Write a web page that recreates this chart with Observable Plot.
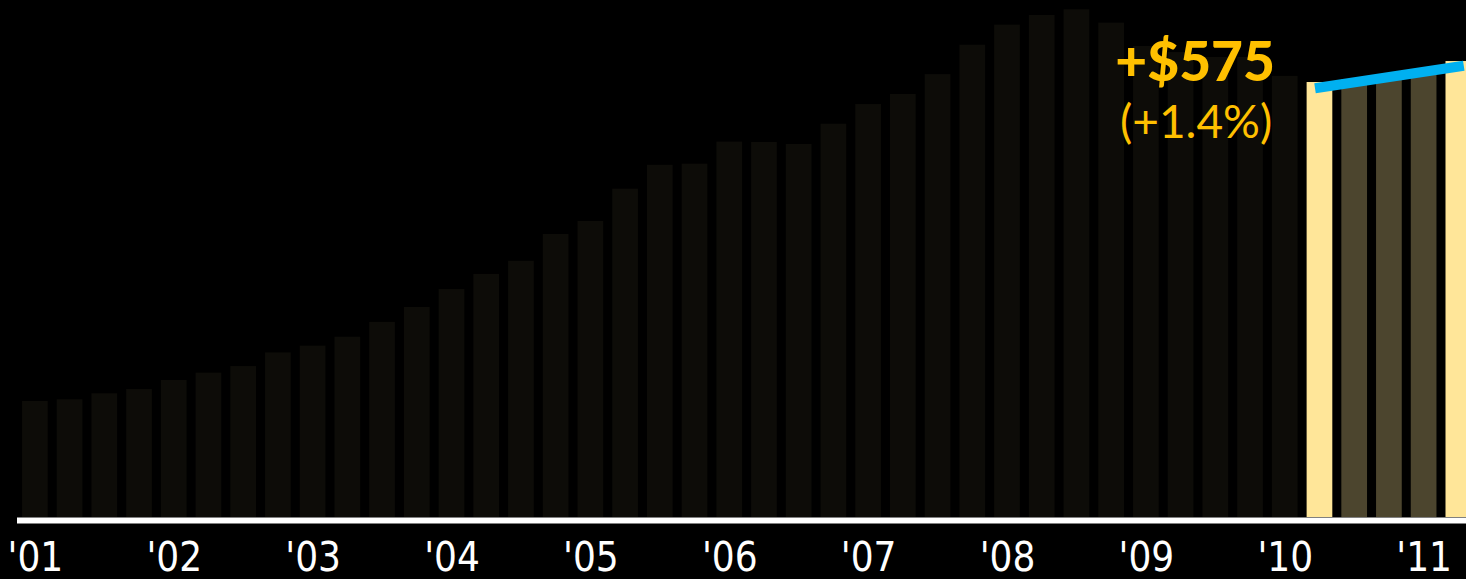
<!DOCTYPE html>
<html>
<head>
<meta charset="utf-8">
<script src="https://cdn.jsdelivr.net/npm/d3@7"></script>
<script src="https://cdn.jsdelivr.net/npm/@observablehq/plot@0.6"></script>
<style>
  html, body { margin: 0; padding: 0; background: #000; overflow: hidden; }
  #chart svg { display: block; }
</style>
</head>
<body>
<div id="chart"></div>
<script>
// Quarterly categories, Q1 2001 through Q2 2011
const quarters = [
  "2001Q1","2001Q2","2001Q3","2001Q4",
  "2002Q1","2002Q2","2002Q3","2002Q4",
  "2003Q1","2003Q2","2003Q3","2003Q4",
  "2004Q1","2004Q2","2004Q3","2004Q4",
  "2005Q1","2005Q2","2005Q3","2005Q4",
  "2006Q1","2006Q2","2006Q3","2006Q4",
  "2007Q1","2007Q2","2007Q3","2007Q4",
  "2008Q1","2008Q2","2008Q3","2008Q4",
  "2009Q1","2009Q2","2009Q3","2009Q4",
  "2010Q1","2010Q2","2010Q3","2010Q4",
  "2011Q1","2011Q2"
];
// Estimated values (dollars)
const values = [
  32330, 32375, 32540, 32655,
  32905, 33105, 33285, 33660,
  33845, 34090, 34495, 34905,
  35395, 35810, 36170, 36905,
  37260, 38145, 38800, 38830,
  39435, 39425, 39370, 39925,
  40465, 40740, 41285, 42090,
  42640, 42905, 43060, 42695,
  42055, 41890, 41755, 41755,
  41235, 41068, 41150, 41285,
  41425, 41643
];
// Bar group for each quarter
const groups = [
  "past","past","past","past",
  "past","past","past","past",
  "past","past","past","past",
  "past","past","past","past",
  "past","past","past","past",
  "past","past","past","past",
  "past","past","past","past",
  "past","past","past","past",
  "past","past","past","past",
  "past","compare","recent","recent",
  "recent","compare"
];
const groupNames = ["past", "compare", "recent"];
const groupColors = ["#0d0c08", "#ffe699", "#4c452e"];

// Year ticks and their labels
const yearTicks = ["2001Q1","2002Q1","2003Q1","2004Q1","2005Q1","2006Q1","2007Q1","2008Q1","2009Q1","2010Q1","2011Q1"];
const tickLabels = ["'01","'02","'03","'04","'05","'06","'07","'08","'09","'10","'11"];

// Annotation
const annotationAnchor = "2009Q2";
const annotationLines = ["+$575", "(+1.4%)"];
const trendFrom = "2010Q2";
const trendTo = "2011Q2";

// Value axis extent (axis is truncated)
const yBase = 29150;
const yTop = 43315;

const data = quarters.map((q, i) => ({q, v: values[i], g: groups[i]}));
const labelOf = new Map(yearTicks.map((t, i) => [t, tickLabels[i]]));
const valueOf = new Map(quarters.map((q, i) => [q, values[i]]));

const chart = Plot.plot({
  width: 1466,
  height: 579,
  marginTop: 0,
  marginBottom: 62,
  marginLeft: 17,
  marginRight: 0,
  style: {background: "#000", color: "#fff", overflow: "hidden"},
  x: {type: "band", domain: quarters, range: [17.5, 1475.7], paddingInner: 0.26, paddingOuter: 0.13, round: false, axis: null},
  y: {domain: [yBase, yTop], axis: null},
  color: {domain: groupNames, range: groupColors},
  marks: [
    Plot.barY(data, {x: "q", y1: yBase, y2: "v", fill: "g"}),
    Plot.ruleY([yBase], {stroke: "#fff", strokeWidth: 6, dy: 3}),
    Plot.axisX({
      ticks: yearTicks,
      tickSize: 0,
      tickPadding: 25,
      tickFormat: d => labelOf.get(d),
      fontSize: 40,
      fontFamily: "'Liberation Sans Narrow', 'DejaVu Sans Condensed', 'DejaVu Sans', sans-serif",
      letterSpacing: -1,
      fill: "#fff",
      label: null
    }),
    Plot.link([{a: trendFrom, b: trendTo}], {
      x1: "a", x2: "b",
      y1: d => valueOf.get(d.a), y2: d => valueOf.get(d.b),
      dy: 5, stroke: "#00b0f0", strokeWidth: 10, strokeLinecap: "square"
    }),
    Plot.text([{q: annotationAnchor, label: annotationLines[0]}], {
      x: "q", text: "label", frameAnchor: "top", lineAnchor: "bottom", dy: 80, dx: 14,
      fill: "#ffc000", fontSize: 55, fontWeight: 900, fontFamily: "Lato, 'Open Sans', sans-serif"
    }),
    Plot.text([{q: annotationAnchor, label: annotationLines[1]}], {
      x: "q", text: "label", frameAnchor: "top", lineAnchor: "bottom", dy: 137, dx: 15,
      fill: "#ffc000", fontSize: 46, fontFamily: "Lato, 'Open Sans', sans-serif",
      letterSpacing: 2
    })
  ]
});
document.getElementById("chart").appendChild(chart);
</script>
</body>
</html>
